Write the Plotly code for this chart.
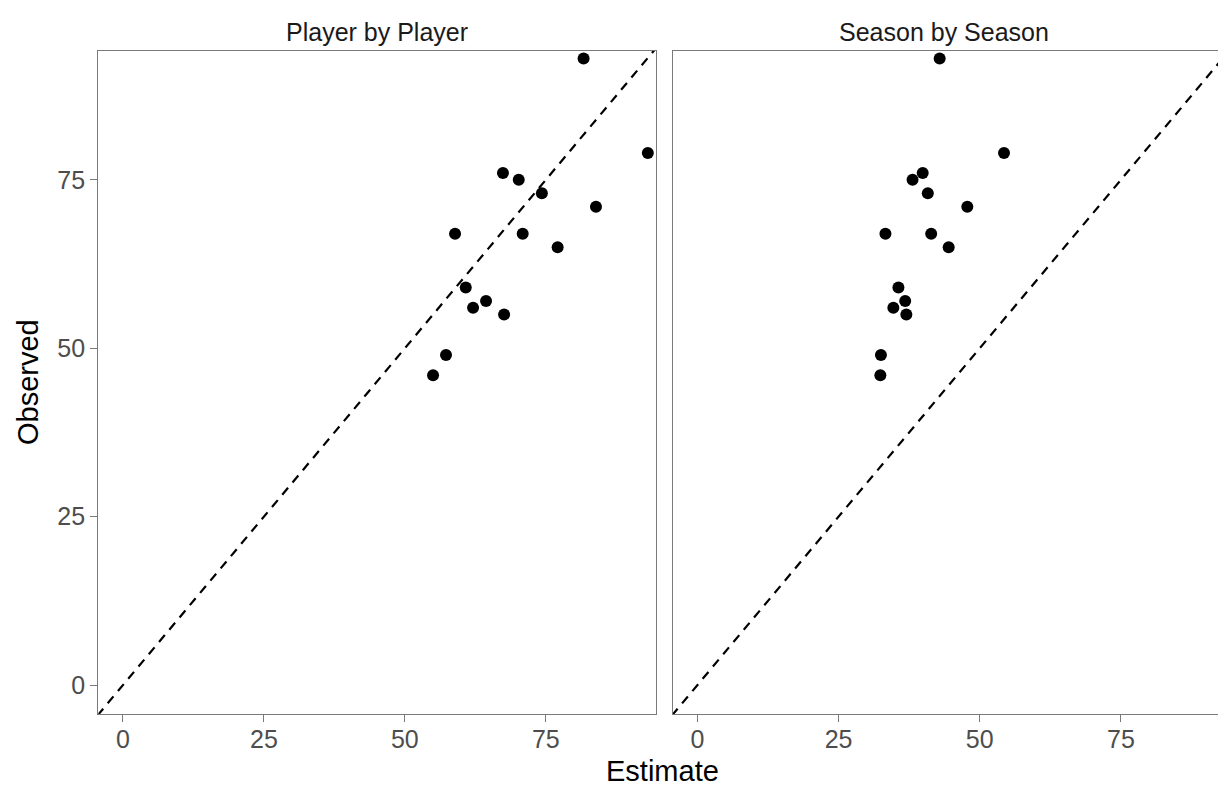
import plotly.graph_objects as go

# Observed values shared by both facets
observed = [93, 79, 76, 75, 73, 71, 67, 67, 65, 59, 57, 56, 55, 49, 46]

# Estimates from the two approaches
player_estimate = [81.7, 93.1, 67.4, 70.2, 74.3, 83.9, 58.9, 70.9, 77.1,
                   60.8, 64.4, 62.1, 67.6, 57.3, 55.0]
season_estimate = [42.9, 54.3, 39.9, 38.1, 40.8, 47.8, 33.3, 41.4, 44.5,
                   35.6, 36.8, 34.7, 37.0, 32.5, 32.4]

facet_titles = ["Player by Player", "Season by Season"]
tick_vals = [0, 25, 50, 75]

# identity reference line (y = x)
ref_line = [-10, 110]

FONT = "Liberation Sans, Arial, sans-serif"
AXIS_GREY = "#7a7a7a"
TICK_GREY = "#4d4d4d"

fig = go.Figure()

for i, est in enumerate([player_estimate, season_estimate]):
    xa = "x" if i == 0 else "x2"
    ya = "y" if i == 0 else "y2"
    fig.add_trace(go.Scatter(
        x=ref_line, y=ref_line, mode="lines", xaxis=xa, yaxis=ya,
        line=dict(color="black", width=2.2, dash="9px,7px"),
        hoverinfo="skip", showlegend=False))
    fig.add_trace(go.Scatter(
        x=est, y=observed, mode="markers", xaxis=xa, yaxis=ya,
        marker=dict(color="black", size=12, line=dict(width=0)),
        showlegend=False))

common_axis = dict(
    showgrid=False, zeroline=False, showline=True, linecolor=AXIS_GREY,
    linewidth=1.3, ticklen=7, tickwidth=1.3,
    tickcolor=AXIS_GREY, tickvals=tick_vals,
    tickfont=dict(family=FONT, size=25, color=TICK_GREY),
)

W, H = 1218, 789
y_dom = [1 - 714 / H, 1 - 50.5 / H]

fig.update_layout(
    width=W, height=H,
    margin=dict(l=0, r=0, t=0, b=0),
    paper_bgcolor="white", plot_bgcolor="white",
    xaxis=dict(domain=[98.3 / W, 656.3 / W], range=[-4.38, 94.6],
               mirror=True, anchor="y", ticks="outside",
               ticklabelstandoff=-4, **common_axis),
    yaxis=dict(domain=y_dom, range=[-4.3, 94.2], mirror=True, anchor="x",
               ticks="outside", **common_axis),
    xaxis2=dict(domain=[672.7 / W, 1.0], range=[-4.38, 92.2],
                mirror=True, anchor="y2", ticks="outside",
                ticklabelstandoff=-4, **common_axis),
    yaxis2=dict(domain=y_dom, range=[-4.3, 94.2], anchor="x2",
                showticklabels=False, ticks="", **common_axis),
    showlegend=False,
)

title_font = dict(family=FONT, size=25, color="#1a1a1a")
axis_title_font = dict(family=FONT, size=29, color="black")

annotations = [
    dict(text=facet_titles[0], x=(98.3 + 656.3) / 2 / W, y=1 - 32 / H,
         xref="paper", yref="paper", showarrow=False,
         xanchor="center", yanchor="middle", font=title_font),
    dict(text=facet_titles[1], x=(672.7 + 1216) / 2 / W, y=1 - 32 / H,
         xref="paper", yref="paper", showarrow=False,
         xanchor="center", yanchor="middle", font=title_font),
    dict(text="Estimate", x=662 / W, y=1 - 771 / H, xref="paper",
         yref="paper", showarrow=False, xanchor="center", yanchor="middle",
         font=axis_title_font),
    dict(text="Observed", x=28 / W, y=1 - 382 / H, xref="paper",
         yref="paper", showarrow=False, textangle=-90,
         xanchor="center", yanchor="middle", font=axis_title_font),
]
fig.update_layout(annotations=annotations)

fig.write_html("out.html")
